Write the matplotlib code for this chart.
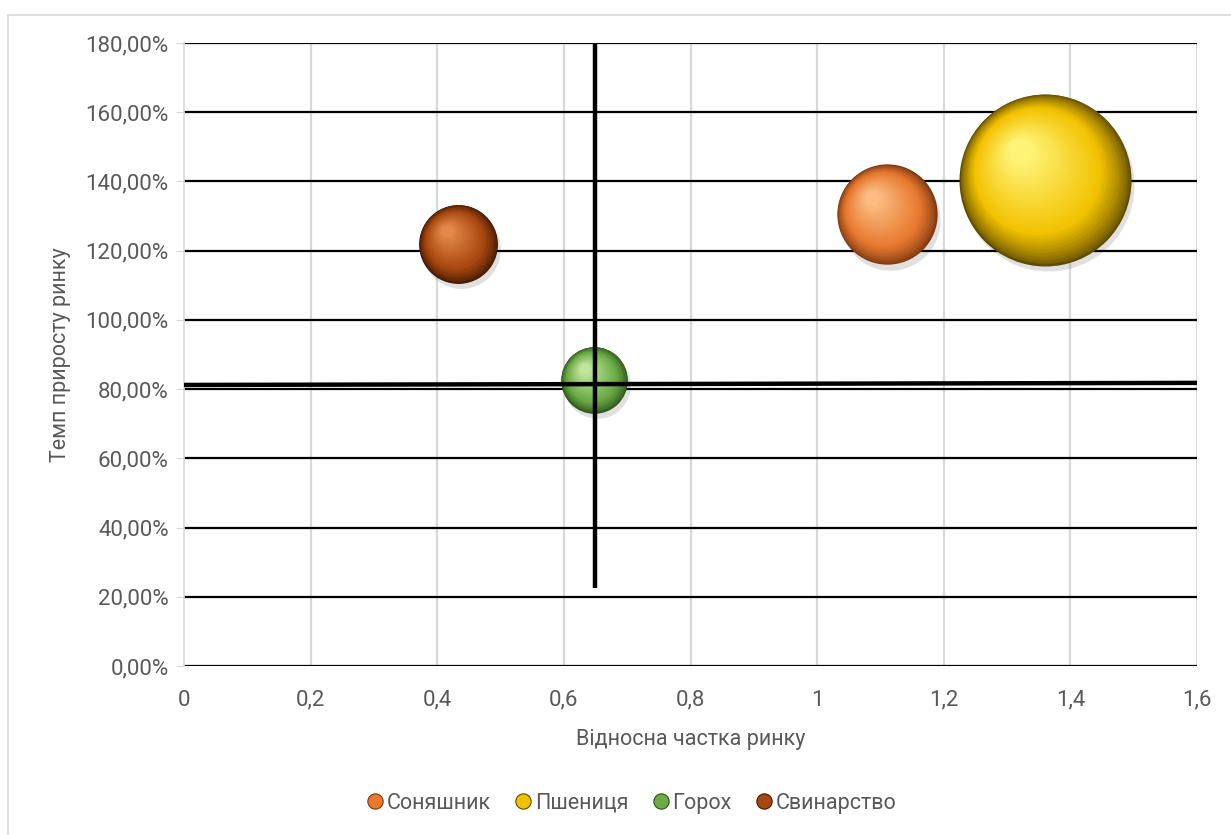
import numpy as np
import matplotlib
matplotlib.use("Agg")
import matplotlib.pyplot as plt
from matplotlib.lines import Line2D
from matplotlib.transforms import offset_copy
from matplotlib.colors import to_rgb

plt.rcParams['font.family'] = ['Roboto', 'DejaVu Sans']

# -----------------------------
# Données
# -----------------------------
names = ["Соняшник", "Пшениця", "Горох", "Свинарство"]
share = [1.11, 1.36, 0.648, 0.433]        # відносна частка ринку
growth = [1.305, 1.405, 0.827, 1.22]      # темп приросту ринку
bubble = [34, 100, 15, 21]                # розмір бульбашки

# couleurs : bord sombre, milieu, reflet
palette = [
    ("#7a3510", "#e87a30", "#fbbf85"),
    ("#5e4a00", "#f2c200", "#fff47a"),
    ("#2c5219", "#6cab46", "#c2e8a0"),
    ("#3f1804", "#a8470f", "#e58a4a"),
]

x_ref = 0.649      # ligne verticale
y_ref = 0.815      # ligne horizontale
v_span = (0.225, 1.80)

yticks = np.arange(0, 1.81, 0.2)
xticks = np.arange(0, 1.61, 0.2)
TXT = "#595959"

fig = plt.figure(figsize=(12.31, 8.35), dpi=100)
ax = fig.add_axes([184 / 1231, 1 - 666 / 835, (1197 - 184) / 1231, (666 - 43) / 835])

ax.set_xlim(0, 1.6)
ax.set_ylim(0, 1.8)
ax.set_yticks(yticks)
ax.set_xticks(xticks)
ax.set_yticklabels([f"{v * 100:.2f}%".replace(".", ",") for v in yticks])
xl = []
for v in xticks:
    s = f"{v:.1f}".rstrip("0").rstrip(".").replace(".", ",")
    xl.append(s)
ax.set_xticklabels(xl)

# grille
for v in yticks:
    ax.axhline(v, color="black", lw=1.6, zorder=1)
for v in xticks[1:]:
    ax.axvline(v, color="#d9d9d9", lw=1.6, zorder=0.5)

for sp in ["top", "right", "bottom"]:
    ax.spines[sp].set_visible(False)
ax.spines["left"].set_color("#d9d9d9")
ax.spines["left"].set_linewidth(1.2)
ax.tick_params(axis="y", length=6, color="#d9d9d9", labelsize=16, labelcolor=TXT, pad=5)
ax.tick_params(axis="x", length=0, labelsize=16, labelcolor=TXT, pad=17)

ax.set_xlabel("Відносна частка ринку", fontsize=15.5, color=TXT, labelpad=13)
ax.set_ylabel("Темп приросту ринку", fontsize=15.5, color=TXT, labelpad=10)

# -----------------------------
# Bulles avec effet sphère
# -----------------------------
max_r_px = 86
k = (2 * max_r_px * 72 / 100) ** 2 / max(bubble)   # aire en points^2 par unité


def mix(c1, c2, t):
    a = np.array(to_rgb(c1)); b = np.array(to_rgb(c2))
    return tuple(a + (b - a) * t)


def color_at(t, dark, mid, light):
    if t < 0.3:
        return mix(dark, mid, (t / 0.3) ** 0.7)
    return mix(mid, light, (t - 0.3) / 0.7)


n_layers = 60
for i in range(len(names)):
    dark, mid, light = palette[i]
    s0 = bubble[i] * k
    r_pt = np.sqrt(s0) / 2
    # ombre légère
    tr = offset_copy(ax.transData, fig=fig, x=2, y=-4, units="points")
    ax.scatter([share[i]], [growth[i]], s=s0, color="black", alpha=0.12,
               linewidths=0, transform=tr, zorder=3)
    for j in range(n_layers):
        t = j / n_layers
        f = 1 - 0.88 * t
        dx = -0.30 * r_pt * t
        dy = 0.34 * r_pt * t
        tr = offset_copy(ax.transData, fig=fig, x=dx, y=dy, units="points")
        ax.scatter([share[i]], [growth[i]], s=s0 * f ** 2,
                   color=color_at(t, dark, mid, light), linewidths=0,
                   transform=tr, zorder=4 + j * 0.001)

# lignes de séparation
ax.plot([x_ref, x_ref], v_span, color="black", lw=3.2, zorder=6, solid_capstyle="butt")
ax.plot([0, 1.6], [y_ref - 0.003, y_ref + 0.003], color="black", lw=3.2, zorder=6,
        solid_capstyle="butt")

# légende
handles = [Line2D([], [], marker="o", ls="", markersize=11,
                  markerfacecolor=palette[i][1], markeredgecolor=palette[i][0],
                  markeredgewidth=0.8) for i in range(len(names))]
leg = fig.legend(handles, names, loc="center", bbox_to_anchor=(0.512, 0.038), ncol=4,
                 frameon=False, fontsize=15.5, handletextpad=0.05, columnspacing=1.0,
                 handlelength=1.0)
for t in leg.get_texts():
    t.set_color(TXT)

# cadre du graphique
fig.add_artist(Line2D([8 / 1231, 8 / 1231], [0, 1 - 15 / 835], color="#d9d9d9", lw=1.2))
fig.add_artist(Line2D([8 / 1231, 1], [1 - 15 / 835, 1 - 15 / 835], color="#d9d9d9", lw=1.2))

fig.savefig("out.png", dpi=100)
